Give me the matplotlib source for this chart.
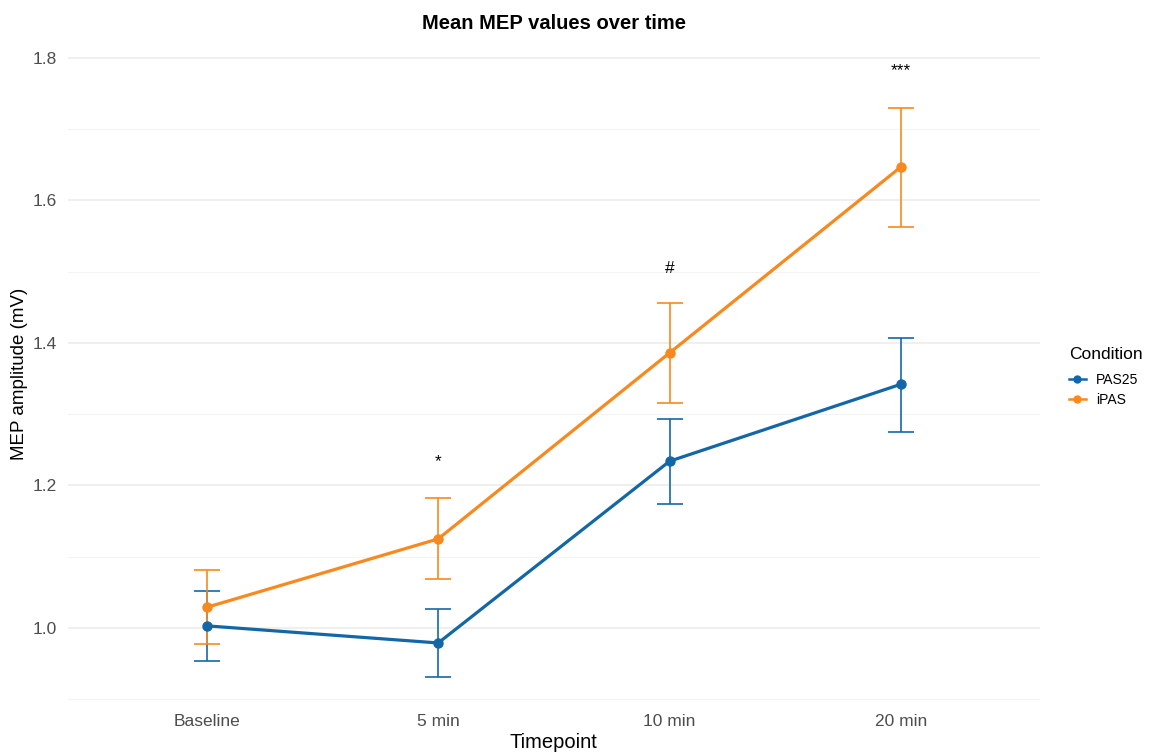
import numpy as np
import matplotlib.pyplot as plt
from matplotlib.lines import Line2D

plt.rcParams['font.family'] = ['Liberation Sans', 'DejaVu Sans']

timepoints = ["Baseline", "5 min", "10 min", "20 min"]

pas25_mean = [1.003, 0.979, 1.234, 1.342]
pas25_lower = [0.954, 0.931, 1.174, 1.275]
pas25_upper = [1.052, 1.027, 1.293, 1.407]

ipas_mean = [1.029, 1.125, 1.386, 1.647]
ipas_lower = [0.978, 1.069, 1.316, 1.563]
ipas_upper = [1.081, 1.182, 1.456, 1.730]

sig_labels = ["", "*", "#", "***"]
sig_y = [None, 1.234, 1.504, 1.782]

blue = "#1467A6"
orange = "#F7891E"

fig = plt.figure(figsize=(11.51, 7.53), dpi=100)
ax = fig.add_axes([0.059, 0.06, 0.8445, 0.887])

x = np.arange(len(timepoints))

for mean, lo, hi, col in [(pas25_mean, pas25_lower, pas25_upper, blue),
                          (ipas_mean, ipas_lower, ipas_upper, orange)]:
    mean = np.array(mean)
    yerr = [mean - np.array(lo), np.array(hi) - mean]
    ax.errorbar(x, mean, yerr=yerr, fmt='none', ecolor=col, elinewidth=1.4,
                capsize=9.7, capthick=1.4, alpha=0.85, zorder=2)
    ax.plot(x, mean, color=col, lw=2.3, marker='o', ms=6.5, zorder=3)

for xi, lab, yv in zip(x, sig_labels, sig_y):
    if lab:
        ax.text(xi, yv, lab, ha='center', va='center', fontsize=12.5, color='black')

ax.set_xlim(-0.6, 3.6)
ax.set_ylim(0.888, 1.825)
ax.set_xticks(x)
ax.set_xticklabels(timepoints)
ax.set_yticks([1.0, 1.2, 1.4, 1.6, 1.8])
ax.set_yticklabels(["1.0", "1.2", "1.4", "1.6", "1.8"])
ax.set_yticks([0.9, 1.1, 1.3, 1.5, 1.7], minor=True)

ax.grid(True, which='major', axis='y', color='#EBEBEB', lw=1.1)
ax.grid(True, which='minor', axis='y', color='#F3F3F3', lw=0.8)
ax.set_axisbelow(True)
for s in ax.spines.values():
    s.set_visible(False)
ax.tick_params(axis='both', which='both', length=0, labelsize=12.5,
               labelcolor='#4D4D4D')
ax.tick_params(axis='x', pad=4.5)
ax.tick_params(axis='y', pad=8)

ax.set_xlabel("Timepoint", fontsize=14.5, labelpad=3)
ax.set_ylabel("MEP amplitude (mV)", fontsize=13.5, labelpad=3)
ax.set_title("Mean MEP values over time", fontsize=14.5, fontweight='bold', pad=8)

handles = [Line2D([0], [0], color=blue, lw=1.8, marker='o', ms=5),
           Line2D([0], [0], color=orange, lw=1.8, marker='o', ms=5)]
leg = fig.legend(handles, ["PAS25", "iPAS"], title="Condition",
                 loc='upper left', bbox_to_anchor=(0.918, 0.556),
                 frameon=False, fontsize=10, title_fontsize=12.5,
                 handlelength=1.2, handletextpad=0.75, labelspacing=0.45)
leg._legend_box.align = "left"
leg._legend_box.sep = 8

fig.savefig("out.png", dpi=100)
